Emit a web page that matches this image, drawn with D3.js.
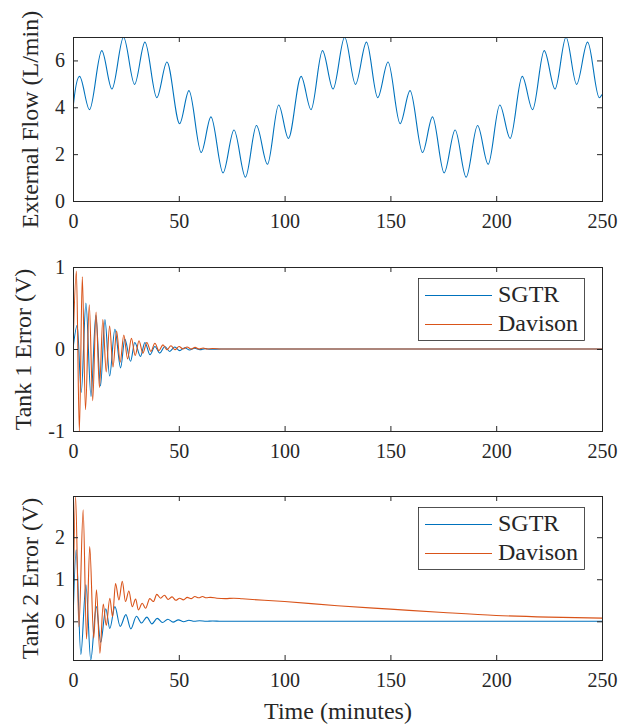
<!DOCTYPE html>
<html>
<head>
<meta charset="utf-8">
<script src="https://cdn.jsdelivr.net/npm/d3@7"></script>
<style>
  body { margin: 0; background: #fff; }
  svg { display: block; }
</style>
</head>
<body>
<svg id="chart"></svg>
<script>
//Three stacked panels: external flow, tank 1 error, tank 2 error

//time ticks shared by all panels
let timeTicks = [0, 50, 100, 150, 200, 250];

//external flow, read at its peaks and troughs
let flowTime = [0, 0.05, 3.1, 7.8, 13.6, 18.4, 23.9, 29.1, 34.0, 39.6, 44.4, 50.4, 54.8, 60.6, 65.2, 70.9,
    76.1, 81.5, 86.7, 91.9, 97.2, 101.8, 107.8, 112.5, 117.9, 122.9, 128.4, 133.5, 138.7, 144.0, 148.9,
    154.6, 159.3, 165.2, 169.9, 175.4, 180.6, 185.8, 191.2, 196.2, 201.7, 206.6, 212.3, 217.2, 222.7,
    227.8, 233.0, 238.0, 243.2, 248.7, 250];
let flowValue = [0, 4.0, 5.32, 3.90, 6.42, 4.78, 6.99, 4.98, 6.78, 4.41, 5.93, 3.30, 4.71, 2.07, 3.59, 1.20,
    3.03, 1.02, 3.22, 1.57, 4.10, 2.67, 5.32, 3.90, 6.42, 4.78, 6.99, 4.98, 6.78, 4.41, 5.93,
    3.30, 4.71, 2.07, 3.59, 1.20, 3.03, 1.02, 3.22, 1.57, 4.10, 2.67, 5.32, 3.90, 6.42,
    4.78, 6.99, 4.98, 6.78, 4.41, 4.55];
let flowTicks = [0, 2, 4, 6];

//tank 1 error - SGTR
let tank1SgtrTime = [0, 2.0, 3.9, 6.1, 8.5, 10.8, 13.0, 15.1, 17.3, 19.8, 22.5, 24.5, 27.2, 29.2, 31.9, 34.0,
    36.4, 38.7, 41.0, 43.4, 45.7, 48.1, 50.4, 52.8, 55.1, 57.5, 60, 62.5, 65, 70, 80, 250];
let tank1SgtrValue = [0, 0.29, -0.53, 0.56, -0.58, 0.41, -0.45, 0.36, -0.33, 0.24, -0.23, 0.12, -0.15, 0.08, -0.09, 0.08,
    -0.07, 0.03, -0.05, 0.03, -0.03, 0.025, -0.02, 0.015, -0.012, 0.01, -0.008, 0.005, -0.003, 0, 0, 0];

//tank 1 error - Davison
let tank1DavisonTime = [0, 1.6, 3.0, 4.4, 5.9, 7.7, 9.3, 10.9, 12.5, 14.1, 15.7, 17.3, 18.9, 20.6, 22.3, 24.0,
    25.8, 27.6, 29.4, 31.2, 33.0, 34.9, 36.8, 38.7, 40.6, 42.5, 44.4, 46.3, 48.2, 50.1, 52.0, 53.9,
    55.8, 57.7, 59.6, 61.5, 63.4, 66, 70, 80, 250];
let tank1DavisonValue = [0, 0.95, -1.0, 0.88, -0.74, 0.54, -0.63, 0.45, -0.47, 0.36, -0.28, 0.28, -0.22, 0.22, -0.16, 0.17,
    -0.12, 0.13, -0.08, 0.10, -0.05, 0.08, -0.03, 0.07, -0.02, 0.05, -0.01, 0.04, -0.01, 0.03, 0.0, 0.025,
    0.0, 0.02, 0.0, 0.012, 0.0, 0.006, 0, 0, 0];
let tank1Ticks = [-1, 0, 1];

//tank 2 error - SGTR
let tank2SgtrTime = [0, 1.5, 3.7, 6.1, 8.4, 11.0, 13.1, 15.5, 17.4, 19.8, 22.3, 25.0, 27.3, 30.0, 32.4, 34.9,
    37.3, 39.8, 42.3, 44.8, 47.3, 49.8, 52.3, 54.8, 57.3, 59.8, 63, 66, 70, 250];
let tank2SgtrValue = [0, 1.70, -0.79, 0.87, -0.92, 0.35, -0.50, 0.30, -0.17, 0.35, -0.12, 0.16, -0.18, 0.12, -0.04, 0.10,
    -0.06, 0.07, -0.03, 0.05, -0.02, 0.035, -0.01, 0.025, 0.0, 0.015, 0.0, 0.008, 0, 0];

//tank 2 error - Davison
let tank2DavisonTime = [0, 1.2, 2.8, 4.8, 6.4, 7.9, 9.8, 11.1, 12.7, 14.3, 15.7, 17.4, 18.7, 20.1, 21.7, 23.3,
    24.8, 26.4, 28.0, 29.6, 30.9, 32.7, 34.3, 36.3, 38.0, 39.6, 41.4, 43.2, 45.0, 46.8, 48.6, 50.4,
    52.2, 54.0, 55.8, 57.6, 59.4, 61.2, 63.0, 65, 68, 72, 76, 80, 100, 125, 150, 175, 200, 225, 250];
let tank2DavisonValue = [0, 2.98, -0.13, 2.65, -0.42, 1.78, -0.40, 0.75, -0.76, 0.41, -0.10, 0.55, 0.11, 0.90, 0.51, 0.95,
    0.47, 0.72, 0.35, 0.53, 0.27, 0.43, 0.31, 0.54, 0.47, 0.64, 0.55, 0.62, 0.52, 0.58, 0.50, 0.55,
    0.51, 0.57, 0.54, 0.59, 0.56, 0.59, 0.56, 0.57, 0.55, 0.54, 0.55, 0.535, 0.47, 0.37, 0.29, 0.21, 0.14, 0.10, 0.075];
let tank2Ticks = [0, 1, 2];

let seriesNames = ["SGTR", "Davison"];
let seriesColors = ["#0072BD", "#D95319"];

//size of the page and of each plot area
let w = 632;
let h = 725;
let plotLeft = 73;
let plotRight = 602;
let plotHeight = 164;
let axisColor = "#262626";
let fontName = "'Liberation Serif', 'Times New Roman', serif";

let svg = d3.select("#chart")
    .attr("width", w)
    .attr("height", h)
    .style("background", "#fff");

//one time scale for all three panels
let xScale = d3.scaleLinear()
    .domain([0, 250])
    .range([plotLeft, plotRight]);

//draws one panel
function buildPanel(id, top, yDomain, yTicks, series, yLabel, labelX, showLegend) {
    let bottom = top + plotHeight;

    let yScale = d3.scaleLinear()
        .domain(yDomain)
        .range([bottom, top]);

    let g = svg.append("g");

    //keep the lines inside the box
    g.append("clipPath")
        .attr("id", "clip" + id)
        .append("rect")
            .attr("x", plotLeft + 0.5)
            .attr("y", top)
            .attr("width", plotRight - plotLeft)
            .attr("height", plotHeight + 1);

    let line = d3.line()
        .x(d => xScale(d[0]))
        .y(d => yScale(d[1]))
        .curve(d3.curveMonotoneX);

    series.forEach(s => {
        let pts = s.time.map((t, i) => [t, s.value[i]]);
        g.append("path")
            .datum(pts)
            .attr("clip-path", "url(#clip" + id + ")")
            .attr("d", line)
            .attr("fill", "none")
            .attr("stroke", s.color)
            .attr("stroke-width", 1.1);
    });

    //the four sides of the box, ticks pointing inwards
    let bottomAxis = d3.axisBottom(xScale).tickValues(timeTicks).tickSizeInner(-5).tickSizeOuter(0).tickPadding(13);
    let topAxis = d3.axisTop(xScale).tickValues(timeTicks).tickSizeInner(-5).tickSizeOuter(0).tickFormat("");
    let leftAxis = d3.axisLeft(yScale).tickValues(yTicks).tickSizeInner(-5).tickSizeOuter(0).tickPadding(8)
        .tickFormat(d => d < 0 ? "-" + Math.abs(d) : d);
    let rightAxis = d3.axisRight(yScale).tickValues(yTicks).tickSizeInner(-5).tickSizeOuter(0).tickFormat("");

    [[bottomAxis, 0, bottom], [topAxis, 0, top], [leftAxis, plotLeft, 0], [rightAxis, plotRight, 0]]
        .forEach(a => {
            let ag = g.append("g")
                .attr("transform", `translate(${a[1]},${a[2]})`)
                .call(a[0])
                .attr("color", axisColor)
                .attr("font-family", fontName)
                .attr("font-size", 20);
            ag.select(".domain").attr("stroke-linecap", "square");
        });

    //y axis title
    g.append("text")
        .attr("transform", `translate(${labelX},${(top + bottom) / 2 + 0.5}) rotate(-90)`)
        .attr("text-anchor", "middle")
        .attr("font-family", fontName)
        .attr("font-size", 24)
        .attr("fill", axisColor)
        .text(yLabel);

    //legend in the upper right corner
    if (showLegend) {
        let boxTop = top + 11.5;
        let lg = g.append("g");
        lg.append("rect")
            .attr("x", 418.5)
            .attr("y", boxTop)
            .attr("width", 166)
            .attr("height", 62)
            .attr("fill", "#fff")
            .attr("stroke", axisColor)
            .attr("stroke-width", 0.8);
        series.forEach((s, i) => {
            lg.append("line")
                .attr("x1", 425)
                .attr("x2", 492)
                .attr("y1", boxTop + 17 + i * 29)
                .attr("y2", boxTop + 17 + i * 29)
                .attr("stroke", s.color)
                .attr("stroke-width", 1.1);
            lg.append("text")
                .attr("x", 498)
                .attr("y", boxTop + 23.5 + i * 29)
                .attr("font-family", fontName)
                .attr("font-size", 24)
                .attr("fill", axisColor)
                .text(s.name);
        });
    }
}

buildPanel(1, 37, [0, 7], flowTicks,
    [{ time: flowTime, value: flowValue, color: seriesColors[0], name: "flow" }],
    "External Flow (L/min)", 38, false);

buildPanel(2, 267, [-1, 1], tank1Ticks,
    [{ time: tank1SgtrTime, value: tank1SgtrValue, color: seriesColors[0], name: seriesNames[0] },
     { time: tank1DavisonTime, value: tank1DavisonValue, color: seriesColors[1], name: seriesNames[1] }],
    "Tank 1 Error (V)", 31, true);

//tank 2 axis is tight around the data
let tank2Extent = d3.extent(tank2SgtrValue.concat(tank2DavisonValue));
buildPanel(3, 496, tank2Extent, tank2Ticks,
    [{ time: tank2SgtrTime, value: tank2SgtrValue, color: seriesColors[0], name: seriesNames[0] },
     { time: tank2DavisonTime, value: tank2DavisonValue, color: seriesColors[1], name: seriesNames[1] }],
    "Tank 2 Error (V)", 38, true);

//x axis title under the last panel
svg.append("text")
    .attr("x", (plotLeft + plotRight) / 2 + 0.5)
    .attr("y", 719)
    .attr("text-anchor", "middle")
    .attr("font-family", fontName)
    .attr("font-size", 24)
    .attr("fill", axisColor)
    .text("Time (minutes)");
</script>
</body>
</html>
